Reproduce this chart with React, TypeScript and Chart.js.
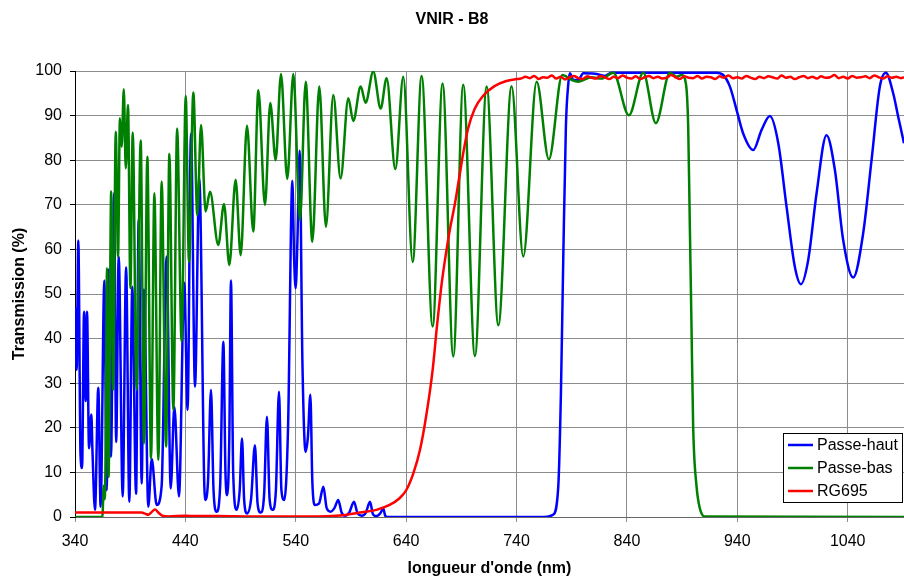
import React, { useEffect, useRef } from 'react';
import { Chart, registerables } from 'chart.js';

Chart.register(...registerables);

const chartTitle = 'VNIR - B8';
const xAxisTitle = "longueur d'onde (nm)";
const yAxisTitle = 'Transmission (%)';
const xTickValues = [340, 440, 540, 640, 740, 840, 940, 1040];
const xMin = 340;
const xMax = 1091;
const yMin = 0;
const yMax = 100;
const yStep = 10;

const seriesNames = ['Passe-haut', 'Passe-bas', 'RG695'];
const seriesColors = ['#0000ff', '#008000', '#ff0000'];

// [wavelength nm, transmission %]
const passeHaut: [number, number][] = [
  [340, 47], [341.5, 33], [343, 62], [345, 14], [346.4, 11], [348.2, 46], [349.7, 26], [350.9, 46],
  [352.7, 15.4], [354.8, 23], [355.8, 15], [358.1, 1.6], [361.1, 29], [363.2, 2.3], [366.6, 53],
  [368.7, 6], [370.5, 55.5], [372.6, 13.5], [375.4, 72.6], [377.3, 16.8], [379.6, 58.4], [383.2, 4.6],
  [386.3, 56], [389.2, 3.4], [391.9, 51.6], [395.3, 5.2], [397.7, 66.6], [400.4, 7.5], [402.5, 51],
  [406.4, 2.3], [409.5, 13], [414, 2.7], [418.5, 7], [423, 58.4], [426.7, 6.4], [430, 24.7], [434.2, 4.6],
  [439, 52.5], [442, 24], [445.1, 86], [448.7, 29.2], [452.6, 76], [457.8, 3.8], [460.5, 8],
  [463.2, 28.5], [465.5, 6], [468.3, 1.2], [471.5, 7], [474.4, 39.3], [476.3, 10], [478, 4.9],
  [479.8, 18], [481.3, 53], [483.3, 10], [486.4, 1.6], [489.2, 6], [491.3, 17.6], [493.2, 4],
  [495.8, 0.8], [499.5, 4], [503, 16.1], [505.4, 3], [508.2, 1], [511.3, 5], [513.9, 22.5],
  [516.3, 4], [519, 1.6], [522, 6], [524.8, 28.1], [527, 6], [529.6, 3.8], [533, 20], [536.9, 75.4],
  [538.5, 58], [539.9, 51.3], [541.5, 62], [543.5, 82.1], [546, 35], [548.9, 14.6], [551, 18],
  [553.2, 27.4], [555, 8], [557.4, 2.7], [561, 3], [565, 6.8], [568, 2], [571.6, 1.2], [575, 2],
  [578.5, 3.8], [581.5, 1], [584.6, 0.3], [588.5, 1], [592.7, 3.4], [596, 0.8], [599.7, 0.3],
  [603.5, 1], [607.2, 3.4], [610, 0.6], [613.2, 0.2], [616.5, 0.8], [619.3, 1.9], [621, 0.3],
  [623, 0], [765, 0], [773, 0.5], [777.8, 6.8], [780.2, 27.7], [782.3, 57.6], [784.7, 87.5],
  [786.9, 97.2], [788.3, 99.5], [791.4, 98], [795.9, 98], [800.5, 99.5], [811, 99.4], [820, 98.9],
  [826, 99.6], [921, 99.6], [927.2, 99.1], [933.3, 96.5], [939.3, 91.3], [945.3, 86], [954.4, 82.3],
  [962, 86.8], [969.5, 89.9], [977.1, 83.8], [984.6, 69.6], [992.1, 56.1], [997.6, 52.2],
  [1004.2, 57.6], [1011.8, 72.6], [1020.8, 85.6], [1028.4, 77.8], [1035.9, 62.1], [1045, 53.7],
  [1054, 63.6], [1061.6, 80], [1069.1, 96.5], [1074.6, 99.6], [1081.2, 95], [1085.7, 89.8],
  [1091, 83.8],
];

const passeBas: [number, number][] = [
  [340, 0], [364.8, 0], [366, 7], [366.9, 4], [367.9, 18], [369, 55.8], [370.4, 9], [372.8, 73],
  [374.6, 28.5], [376.9, 86.4], [379, 58.4], [380.7, 89.4], [382.3, 83], [384.2, 95.9], [386, 78.2],
  [388, 92.4], [390.2, 51.3], [392.3, 86.2], [395.8, 28.5], [399.5, 84.4], [402.5, 16.5],
  [405.5, 80.8], [408.9, 13.2], [411.9, 72.6], [415.5, 12.8], [418.5, 75.2], [422.5, 15.8],
  [425.5, 81.4], [429.1, 24], [432.5, 87.1], [436.6, 39.3], [440.3, 94.4], [443.3, 57.2],
  [447.2, 95.2], [450.8, 67.7], [454.2, 87.9], [458.3, 68.5], [462.3, 72.9], [469.8, 61],
  [475, 70.2], [479.8, 56.5], [485.5, 75.6], [490.1, 58.7], [495.8, 87.7], [501.5, 64],
  [506.1, 95.7], [512.1, 70], [516.9, 92.8], [521.8, 80], [526.6, 99.3], [532.3, 75.8],
  [537.8, 99.3], [543.8, 66.6], [549, 97.6], [555, 61.7], [561.3, 96.5], [567.3, 65.1],
  [574, 94.6], [580.6, 75.9], [587.6, 93.9], [592.1, 88.8], [598.8, 96.5], [603.3, 92.9],
  [610.2, 99.9], [616.9, 91.6], [622.3, 98.4], [630.2, 78], [637.4, 98.7], [645.9, 57.2],
  [654, 98.9], [664, 42.7], [673, 97.2], [682.7, 36], [691.7, 96.9], [702.3, 36.1], [712.9, 96.5],
  [723.5, 43], [735.5, 96.6], [746.1, 58.4], [758.2, 97.6], [769.3, 80.2], [781.4, 99.1],
  [789.9, 98], [795.9, 97.6], [808, 98.6], [817, 98.3], [827.6, 99.6], [841.8, 90.1],
  [854.8, 99.6], [866.2, 88.3], [878.9, 99.6], [885, 98.7], [889.5, 99.1], [893.4, 97.2],
  [895.5, 87.5], [897, 65], [898.5, 42.7], [900, 20.3], [903.1, 6.8], [906.1, 1.9], [910.6, 0.1],
  [1091, 0],
];

const rg695: [number, number][] = [
  [340, 1], [400, 1], [404, 0.7], [406.5, 0.5], [409, 1], [412.5, 1.7], [415.5, 1], [419, 0.3],
  [425, 0.1], [440, 0.3], [450, 0.2], [470, 0.2], [500, 0.1], [550, 0.1], [583, 0.4], [598, 1],
  [613, 1.6], [625, 2.7], [634, 4.2], [640, 6], [646.5, 9.8], [652.5, 15], [658.5, 23.2], [664, 33],
  [668, 43], [672, 52], [676, 59], [680, 65], [684, 70], [688, 76], [692, 82], [696, 87],
  [702, 91.5], [710, 94.5], [720, 96.6], [730, 97.7], [740, 98.2],
  [744, 98.3], [748, 98.7], [752, 98.4], [756, 98.9], [760, 98.2], [764, 98.6], [768, 98.5],
  [772, 99.0], [776, 98.3], [780, 98.7], [784, 98.1], [788, 98.6], [792, 98.9], [796, 98.4],
  [800, 98.2], [804, 98.8], [808, 98.5], [812, 98.3], [816, 98.9], [820, 98.6], [824, 98.2],
  [828, 98.7], [832, 98.4], [836, 99.0], [840, 98.5], [844, 98.3], [848, 98.8], [852, 98.2],
  [856, 98.6], [860, 98.9], [864, 98.4], [868, 98.7], [872, 98.3], [876, 98.5], [880, 99.1],
  [884, 98.6], [888, 98.2], [892, 98.8], [896, 98.5], [900, 98.4], [904, 98.9], [908, 98.3],
  [912, 98.7], [916, 98.6], [920, 98.2], [924, 98.8], [928, 98.5], [932, 99.0], [936, 98.4],
  [940, 98.6], [944, 98.3], [948, 98.9], [952, 98.5], [956, 98.2], [960, 98.7], [964, 98.4],
  [968, 98.8], [972, 98.6], [976, 98.3], [980, 99.0], [984, 98.5], [988, 98.7], [992, 98.2],
  [996, 98.6], [1000, 98.9], [1004, 98.4], [1008, 98.7], [1012, 98.3], [1016, 98.8], [1020, 98.5],
  [1024, 98.6], [1028, 99.1], [1032, 98.4], [1036, 98.7], [1040, 98.3], [1044, 98.9], [1048, 98.5],
  [1052, 98.6], [1056, 98.8], [1060, 98.4], [1064, 99.0], [1068, 98.6], [1072, 98.3], [1076, 98.8],
  [1080, 98.5], [1084, 98.7], [1088, 98.4], [1091, 98.6],
];

const seriesData = [passeHaut, passeBas, rg695];

const FONT = "'Liberation Sans', Arial, Helvetica, sans-serif";

const insideLegend = {
  id: 'insideLegend',
  afterDatasetsDraw(chart: any) {
    const { ctx, chartArea } = chart;
    const w = 119;
    const h = 69;
    const x0 = Math.round(chartArea.right - 2 - w);
    const y0 = Math.round(chartArea.bottom - 15 - h);
    ctx.save();
    ctx.fillStyle = '#ffffff';
    ctx.fillRect(x0, y0, w, h);
    ctx.strokeStyle = '#000000';
    ctx.lineWidth = 1;
    ctx.strokeRect(x0 + 0.5, y0 + 0.5, w, h);
    ctx.font = `16px ${FONT}`;
    ctx.textBaseline = 'middle';
    ctx.textAlign = 'left';
    seriesNames.forEach((name, i) => {
      const yy = y0 + 12 + i * 23;
      ctx.strokeStyle = seriesColors[i];
      ctx.lineWidth = 2.5;
      ctx.beginPath();
      ctx.moveTo(x0 + 5, yy);
      ctx.lineTo(x0 + 30, yy);
      ctx.stroke();
      ctx.fillStyle = '#000000';
      ctx.fillText(name, x0 + 34, yy + 1);
    });
    ctx.restore();
  },
};

export default function App() {
  const canvasRef = useRef<HTMLCanvasElement | null>(null);

  useEffect(() => {
    document.body.style.margin = '0';
    const canvas = canvasRef.current;
    if (!canvas) return;
    const chart = new Chart(canvas, {
      type: 'line',
      data: {
        datasets: seriesData.map((pts, i) => ({
          label: seriesNames[i],
          data: pts.map(([x, y]) => ({ x, y })),
          borderColor: seriesColors[i],
          backgroundColor: seriesColors[i],
          borderWidth: 2.5,
          pointRadius: 0,
          fill: false,
          cubicInterpolationMode: 'monotone' as const,
          order: 3 - i,
        })),
      },
      options: {
        animation: false,
        responsive: true,
        maintainAspectRatio: false,
        events: [],
        layout: { padding: { left: 0, right: 0, top: 0, bottom: 0 } },
        plugins: {
          legend: { display: false },
          tooltip: { enabled: false },
          title: {
            display: true,
            text: chartTitle,
            color: '#000',
            font: { family: FONT, size: 16, weight: 'bold' },
            padding: { top: 10, bottom: 41.8 },
          },
        },
        scales: {
          x: {
            type: 'linear',
            min: xMin,
            max: xMax,
            afterBuildTicks: (scale: any) => {
              scale.ticks = xTickValues.map((v) => ({ value: v }));
            },
            afterFit: (scale: any) => {
              scale.height = 59;
            },
            grid: { color: '#8c8c8c', lineWidth: 1, tickLength: 5, tickColor: '#8c8c8c' },
            border: { color: '#666666', width: 1 },
            ticks: {
              color: '#000',
              font: { family: FONT, size: 16 },
              padding: 10,
              maxRotation: 0,
              autoSkip: false,
              callback: (v: any) => String(v),
            },
            title: {
              display: true,
              text: xAxisTitle,
              color: '#000',
              font: { family: FONT, size: 16, weight: 'bold' },
              padding: { top: 0, bottom: -2 },
            },
          },
          y: {
            type: 'linear',
            min: yMin,
            max: yMax,
            afterFit: (scale: any) => {
              scale.width = 75;
            },
            grid: { color: '#8c8c8c', lineWidth: 1, tickLength: 5, tickColor: '#000' },
            border: { color: '#000', width: 1 },
            ticks: {
              stepSize: yStep,
              color: '#000',
              font: { family: FONT, size: 16 },
              padding: 8,
              callback: (v: any) => String(v),
            },
            title: {
              display: true,
              text: yAxisTitle,
              color: '#000',
              font: { family: FONT, size: 16, weight: 'bold' },
              padding: { top: 9.5, bottom: 0 },
            },
          },
        },
      },
      plugins: [insideLegend],
    });
    return () => chart.destroy();
  }, []);

  return (
    <div style={{ width: 904, height: 576, position: 'relative', background: '#fff' }}>
      <canvas ref={canvasRef} style={{ display: 'block' }} />
    </div>
  );
}
